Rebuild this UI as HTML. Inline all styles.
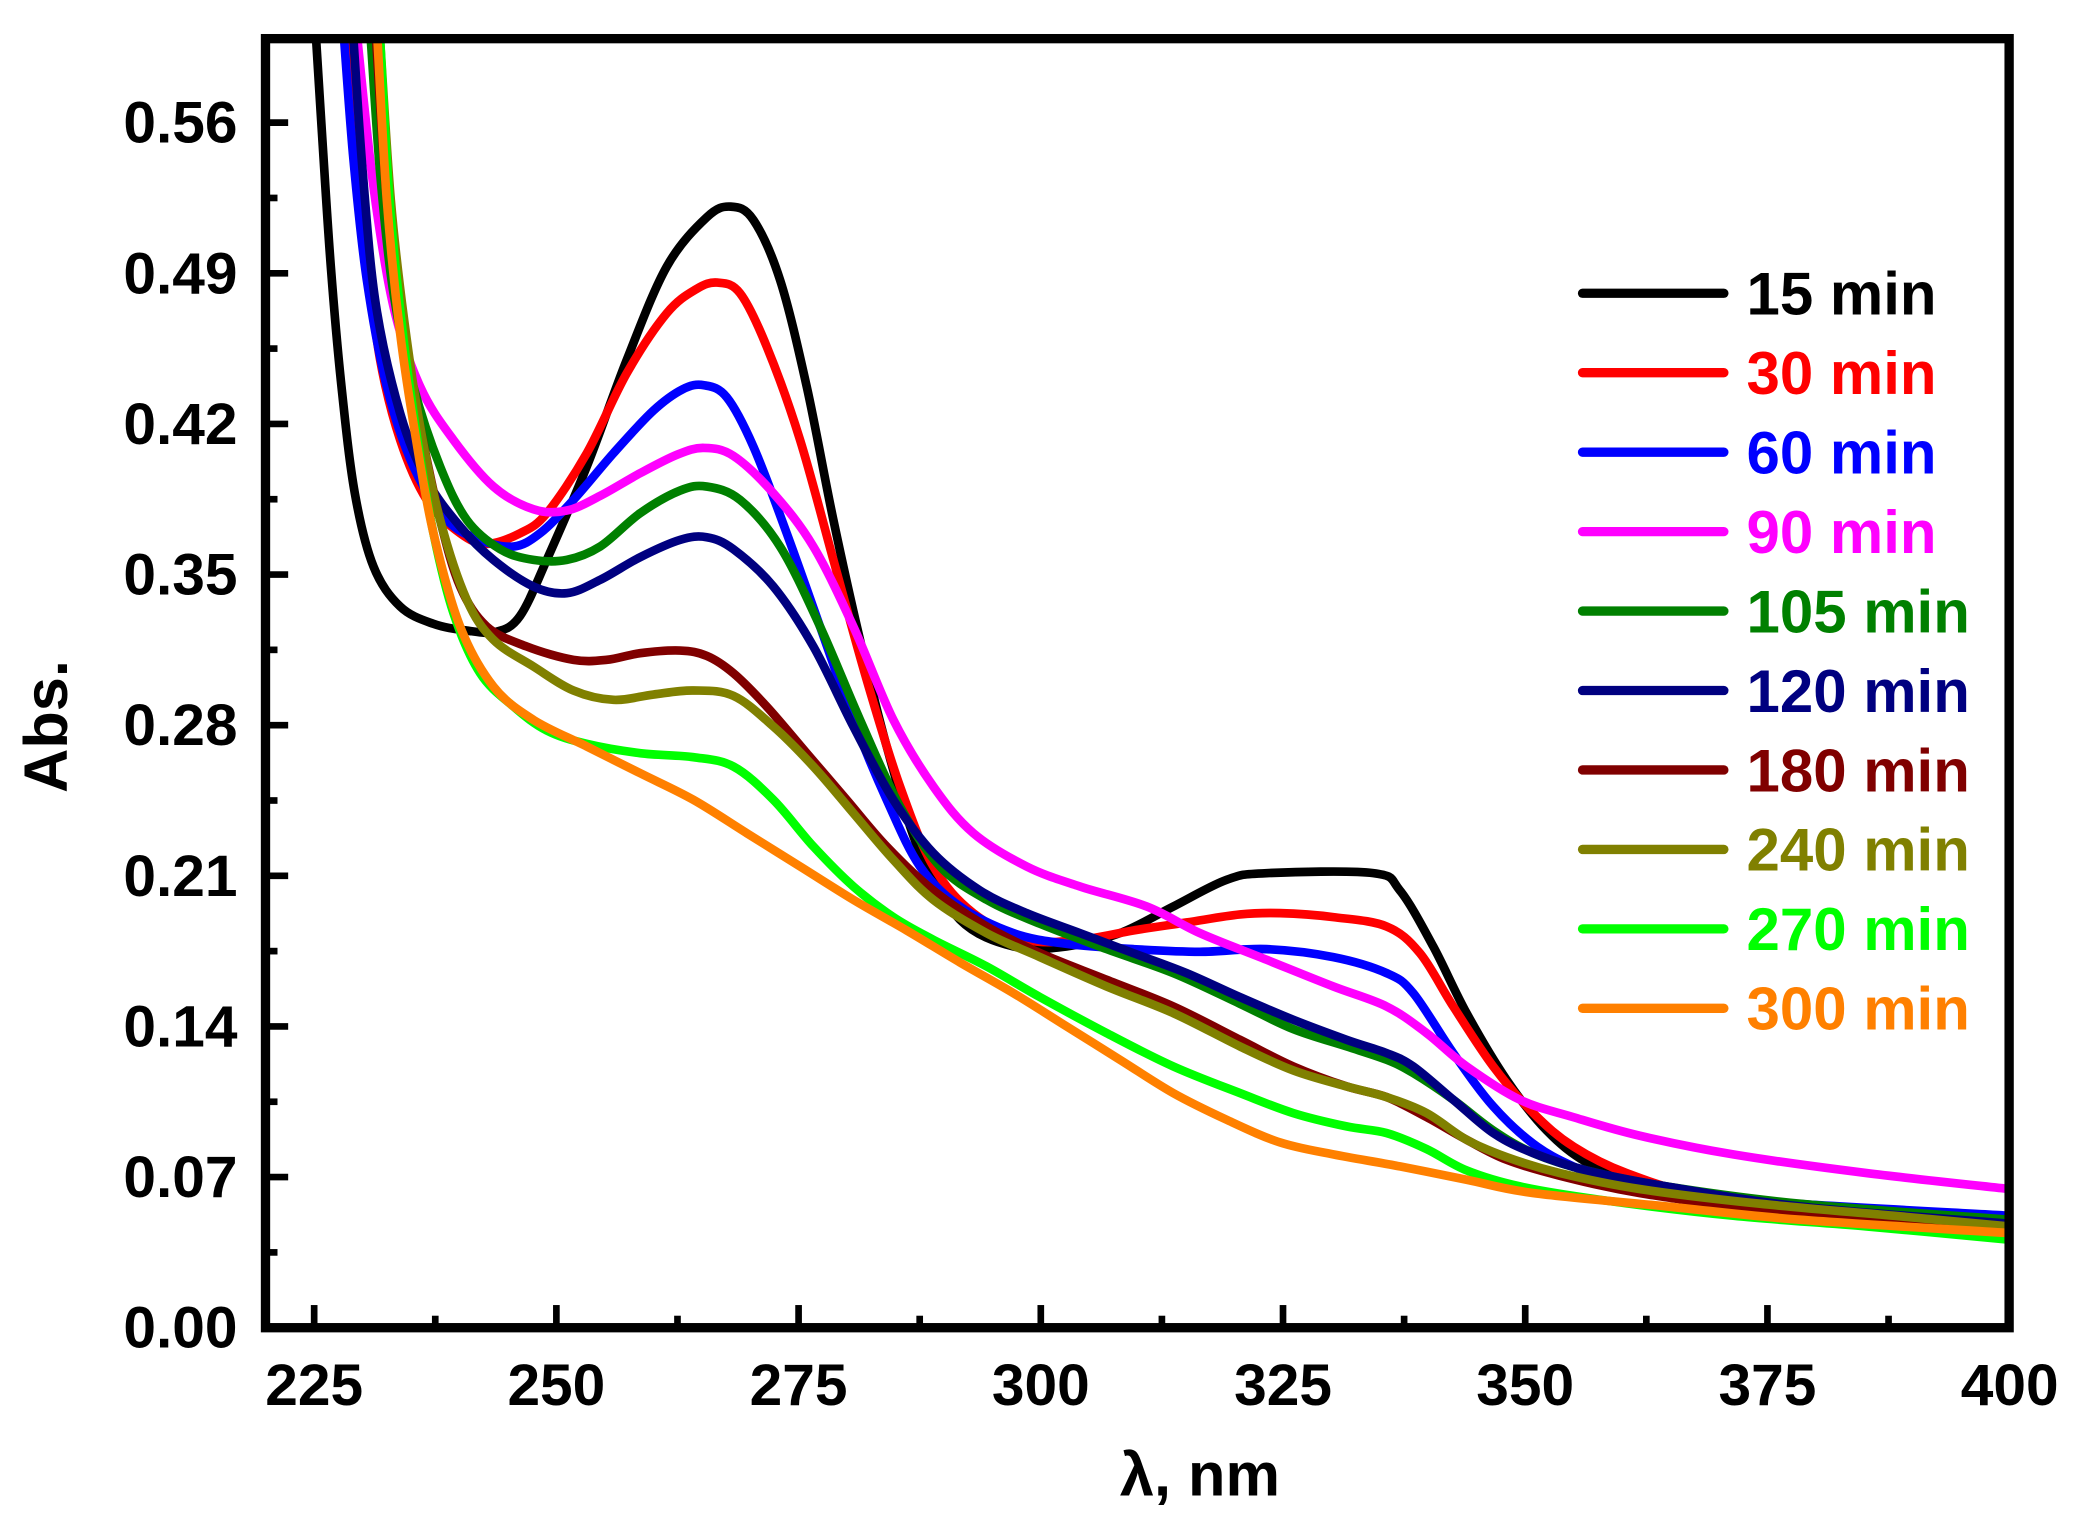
<!DOCTYPE html>
<html><head><meta charset="utf-8"><style>
html,body{margin:0;padding:0;background:#fff;}
svg{display:block;}
text{font-family:"Liberation Sans",Arial,sans-serif;font-weight:bold;}
</style></head><body>
<svg id="s" width="2080" height="1517" viewBox="0 0 1560 1138" xmlns="http://www.w3.org/2000/svg">
<defs><clipPath id="c"><rect x="199" y="29" width="1308" height="967"/></clipPath></defs>
<g id="curves" clip-path="url(#c)" fill="none" stroke-width="6.5" stroke-linejoin="round" stroke-linecap="round"></g>
<rect x="199" y="29" width="1308" height="967" fill="none" stroke="#000" stroke-width="7"/>
<g id="ticks" stroke="#000" stroke-width="5"></g>
<g id="labels" font-size="44" fill="#000"></g>
<text x="900" y="1122" font-size="46" text-anchor="middle">λ, nm</text>
<text transform="translate(50,545) rotate(-90)" font-size="46" text-anchor="middle">Abs.</text>
<g id="legend"></g>
</svg>
<script>
var NS="http://www.w3.org/2000/svg";
function el(t,a,p,txt){var e=document.createElementNS(NS,t);for(var k in a)e.setAttribute(k,a[k]);if(txt)e.textContent=txt;p.appendChild(e);return e;}
var ticks=document.getElementById('ticks'),labels=document.getElementById('labels');
for(var i=0;i<=16;i++){var y=996-i*56.5;var major=i%2==0;
 el('line',{x1:199,y1:y,x2:199+(major?17:9),y2:y},ticks);
 if(major){el('text',{x:178,y:y+15,'text-anchor':'end'},labels,(i/2*0.07).toFixed(2));}}
for(var i=0;i<=14;i++){var x=235.5+i*90.85;var major=i%2==0;
 el('line',{x1:x,y1:996,x2:x,y2:996-(major?17:9)},ticks);
 if(major){el('text',{x:x,y:1054,'text-anchor':'middle'},labels,String(225+i*12.5));}}
var S=[
["#000000","15 min",[[237,30],[242,110],[248,200],[256,290],[266,370],[280,425],[300,455],[325,468],[350,473],[372,474],[390,462],[410,420],[440,350],[470,270],[500,200],[530,163],[548,155],[565,165],[585,210],[605,290],[625,390],[645,480],[665,560],[690,640],[720,690],[760,710],[800,710],[840,700],[880,680],[920,660],[950,655],[1030,655],[1050,668],[1075,710],[1100,760],[1130,810],[1160,848],[1190,872],[1230,890],[1290,902],[1400,915],[1507,924]]],
["#ff0000","30 min",[[262,30],[268,110],[275,190],[285,270],[300,330],[320,375],[345,400],[365,408],[390,400],[410,385],[440,340],[470,280],[500,235],[522,217],[538,212],[555,220],[575,260],[600,330],[625,420],[650,510],[675,590],[700,650],[730,685],[770,705],[810,705],[850,698],[890,692],[930,686],[960,685],[1000,688],[1040,695],[1065,715],[1090,755],[1120,800],[1150,835],[1180,860],[1220,880],[1280,897],[1400,912],[1507,922]]],
["#0000ff","60 min",[[258,30],[265,120],[275,210],[290,290],[310,350],[335,390],[360,405],[385,410],[405,400],[430,375],[460,340],[490,308],[512,292],[528,289],[545,298],[565,335],[590,400],[615,470],[640,540],[665,600],[690,650],[720,680],[760,700],[800,708],[850,712],[900,714],[950,712],[1000,718],[1040,730],[1060,745],[1090,790],[1120,830],[1150,858],[1180,875],[1220,890],[1300,900],[1507,912]]],
["#ff00ff","90 min",[[268,30],[280,140],[295,230],[315,290],[340,330],[370,365],[400,382],[425,383],[450,372],[480,355],[508,341],[528,336],[550,342],[580,370],[610,410],[640,470],[670,540],[700,590],[730,625],[770,650],[810,665],[860,680],[900,700],[950,720],[1000,740],[1040,755],[1070,775],[1100,800],[1140,825],[1180,838],[1230,852],[1300,866],[1400,880],[1507,892]]],
["#008000","105 min",[[278,30],[285,130],[295,220],[310,290],[330,350],[350,390],[375,412],[400,420],[425,420],[450,410],[480,385],[510,368],[530,365],[555,375],[585,410],[615,470],[645,540],[675,605],[705,650],[740,675],[780,693],[830,712],[880,730],[930,753],[970,772],[1010,785],[1040,795],[1060,805],[1090,825],[1120,848],[1150,865],[1190,878],[1250,890],[1350,903],[1507,915]]],
["#000080","120 min",[[265,30],[272,130],[282,230],[300,310],[320,360],[345,395],[370,420],[400,440],[425,445],[450,435],[480,418],[510,405],[530,403],[550,412],[580,440],[610,485],[640,545],[670,600],[700,640],[735,668],[770,685],[810,700],[850,715],[890,730],[930,748],[970,765],[1010,780],[1040,790],[1060,800],[1090,825],[1120,850],[1150,865],[1190,878],[1250,890],[1350,905],[1507,918]]],
["#800000","180 min",[[282,30],[290,150],[300,240],[315,320],[330,390],[345,440],[365,470],[395,485],[430,495],[455,495],[480,490],[510,488],[530,492],[550,505],[575,530],[605,565],[635,600],[665,635],[700,668],[740,695],[780,715],[830,735],[880,755],[930,780],[970,800],[1010,815],[1040,823],[1070,838],[1100,855],[1130,870],[1170,882],[1230,895],[1320,907],[1420,915],[1507,922]]],
["#808000","240 min",[[285,30],[293,150],[303,240],[315,320],[330,390],[350,450],[370,480],[400,500],[430,518],[460,525],[490,521],[520,518],[550,522],[580,545],[610,575],[640,610],[670,645],[700,675],[740,700],[780,718],[830,740],[880,760],[930,785],[970,803],[1010,815],[1040,823],[1070,835],[1100,855],[1130,868],[1170,880],[1230,892],[1320,903],[1420,912],[1507,920]]],
["#00ff00","270 min",[[285,30],[292,150],[302,250],[313,330],[325,400],[340,460],[360,505],[385,530],[410,548],[440,558],[480,565],[520,568],[550,575],[580,600],[610,635],[640,665],[670,688],[700,705],[740,725],[780,748],[830,775],[880,800],[930,820],[970,835],[1010,845],[1040,850],[1070,862],[1100,878],[1140,890],[1200,900],[1300,912],[1400,920],[1507,930]]],
["#ff8000","300 min",[[283,30],[290,150],[300,250],[312,330],[325,400],[345,470],[370,515],[400,540],[440,560],[480,580],[520,600],[560,625],[600,650],[640,675],[680,698],[720,722],[760,745],[800,770],[840,795],[880,820],[920,840],[960,857],[1000,866],[1050,875],[1100,885],[1150,895],[1250,905],[1350,915],[1507,925]]]
];
function path(p){var d="M"+p[0][0]+","+p[0][1];
 for(var i=0;i<p.length-1;i++){var p0=p[i-1]||p[i],p1=p[i],p2=p[i+1],p3=p[i+2]||p2;
  var c1x=p1[0]+(p2[0]-p0[0])/6,c1y=p1[1]+(p2[1]-p0[1])/6,c2x=p2[0]-(p3[0]-p1[0])/6,c2y=p2[1]-(p3[1]-p1[1])/6;
  d+=" C"+c1x.toFixed(1)+","+c1y.toFixed(1)+" "+c2x.toFixed(1)+","+c2y.toFixed(1)+" "+p2[0]+","+p2[1];}
 return d;}
var cg=document.getElementById('curves'),lg=document.getElementById('legend');
S.forEach(function(s,i){
 el('path',{d:path(s[2]),stroke:s[0]},cg);
 var y=220+i*59.6;
 el('line',{x1:1187,y1:y,x2:1293,y2:y,stroke:s[0],'stroke-width':7,'stroke-linecap':'round'},lg);
 el('text',{x:1310,y:y+16,fill:s[0],'font-size':45},lg,s[1]);
});
</script>
</body></html>
